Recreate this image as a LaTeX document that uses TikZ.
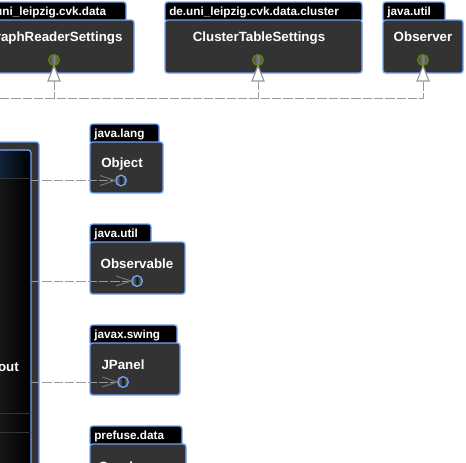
\documentclass[tikz,border=0pt]{standalone}
\usepackage{fontspec}
\setmainfont{Liberation Sans}
\definecolor{bodyc}{HTML}{333333}
\definecolor{edgeblue}{HTML}{6FA3F5}
\definecolor{dashc}{HTML}{999999}
\definecolor{olive}{HTML}{5A8A00}
\definecolor{headnavy}{HTML}{11263F}
\definecolor{leftdark}{HTML}{181818}
\tikzset{
  x=0.75pt,y=-0.75pt,
  pkgbody/.style={fill=bodyc,draw=edgeblue,line width=1pt,rounded corners=2pt},
  pkgtab/.style={fill=black,draw=edgeblue,line width=1pt,rounded corners=2pt},
  tabtext/.style={font=\bfseries\fontsize{8.8}{11}\selectfont,text=white,inner sep=0pt,anchor=base west},
  classtext/.style={font=\bfseries\fontsize{10}{11}\selectfont,text=white,inner sep=0pt,anchor=base},
  lolly/.style={circle,minimum size=8pt,inner sep=0pt,line width=1pt},
  lollyo/.style={lolly,draw=olive,left color=black!75,right color=black!75,middle color=black!50},
  lollyb/.style={lolly,draw=edgeblue,left color=black!50,right color=black!50,middle color=black!90},
  depline/.style={draw=dashc,line width=0.7pt,dash pattern=on 7pt off 1.5pt},
  depopen/.style={draw=black!55,line width=0.75pt},
  realtip/.style={draw=dashc,fill=white,line width=0.85pt},
}
\newcommand{\pkg}[9]{%
  \draw[pkgtab] (#1,#2) rectangle (#3,#4+2);
  \draw[pkgbody] (#1,#4) rectangle (#5,#6);
  \node[tabtext] at (#1+4,#4-5) {#7};
  \node[classtext] (#9) at (#8) {#9};
}
\begin{document}
\begin{tikzpicture}
\useasboundingbox (0,0) rectangle (466,462);
\clip (0,0) rectangle (466,462);
\fill[white] (0,0) rectangle (466,462);
% left class
\draw[pkgbody] (-20,142) rectangle (39,480);
\shade[left color=leftdark,right color=black] (-2,151) rectangle (31,480);
\shade[left color=headnavy,right color=black] (-2,151) rectangle (31,178);
\draw[edgeblue,line width=1pt,rounded corners=2pt] (-20,150) -- (31,150) -- (31,480);
\draw[bodyc,line width=0.75pt] (0,178) -- (31,178);
\draw[bodyc,line width=0.75pt] (0,413) -- (31,413);
\draw[bodyc,line width=0.75pt] (0,432) -- (31,432);
\node[classtext,anchor=base east] (layout) at (19,371) {Layout};
\coordinate (c1) at (31,180.5);
\coordinate (c2) at (31,281);
\coordinate (c3) at (31,382);
\coordinate (hl) at (0,98.5);
% top packages
\pkg{-26}{2}{126}{20}{134}{73}{de.uni\_leipzig.cvk.data}{54,41}{GraphReaderSettings}
\pkg{165}{2}{362}{20}{362}{73}{de.uni\_leipzig.cvk.data.cluster}{259,41}{ClusterTableSettings}
\pkg{383}{2}{445}{20}{463}{73}{java.util}{423,41}{Observer}
% right packages
\pkg{90}{124}{159}{142}{163}{193}{java.lang}{122,167}{Object}
\pkg{90}{224}{151}{242}{185}{294}{java.util}{137,268}{Observable}
\pkg{90}{325}{177}{343}{180}{395}{javax.swing}{123,369}{JPanel}
\pkg{90}{426}{182}{444}{186}{490}{prefuse.data}{118,471}{Graph}
% lollipops
\node[lollyo] (l1) at (54,60) {};
\node[lollyo] (l2) at (258,60) {};
\node[lollyo] (l3) at (423,60) {};
\node[lollyb] (r1) at (121,180.5) {};
\node[lollyb] (r2) at (137,281) {};
\node[lollyb] (r3) at (123,382) {};
% realization
\coordinate (b1) at (54,81);
\coordinate (b2) at (258,81);
\coordinate (b3) at (423,81);
\draw[depline] (hl) -| (b3);
\draw[depline] (b1) -- (54,98.5);
\draw[depline] (b2) -- (258,98.5);
\draw[realtip] (l1.south) -- (48,81) -- (60,81) -- cycle;
\draw[realtip] (l2.south) -- (252,81) -- (264,81) -- cycle;
\draw[realtip] (l3.south) -- (417,81) -- (429,81) -- cycle;
% dependencies
\foreach \a/\b in {c1/r1,c2/r2,c3/r3}{
  \draw[depline] (\a) -- (\b.west);
  \draw[depopen] ([shift={(-15,-5)}]\b.west) -- (\b.west) -- ([shift={(-15,5)}]\b.west);
}
\end{tikzpicture}
\end{document}
